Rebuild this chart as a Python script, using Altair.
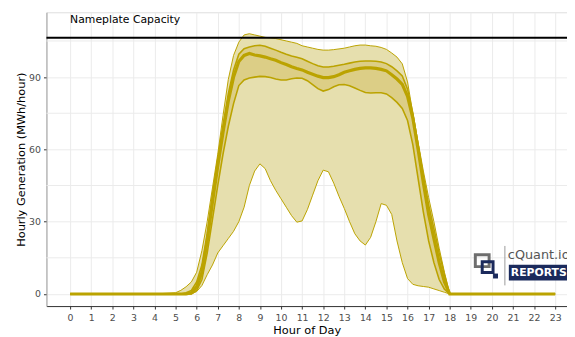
import altair as alt
import pandas as pd

# ---- data ----
grid_hours = [5.0, 5.25, 5.5, 5.75, 6.0, 6.25, 6.5, 6.75, 7.0, 7.25, 7.5, 7.75, 8.0, 8.25, 8.5, 8.75,
              9.0, 9.25, 9.5, 9.75, 10.0, 10.25, 10.5, 10.75, 11.0, 11.25, 11.5, 11.75, 12.0, 12.25,
              12.5, 12.75, 13.0, 13.25, 13.5, 13.75, 14.0, 14.25, 14.5, 14.75, 15.0, 15.25, 15.5,
              15.75, 16.0, 16.25, 16.5, 16.75, 17.0, 17.25, 17.5, 17.75, 18.0]
night_before = [0, 1, 2, 3, 4]
night_after = [19, 20, 21, 22, 23]

gen_max = [0.5, 1.5, 3, 5, 9, 18, 30, 44, 58, 74, 89, 99, 104.5, 107.5, 108, 107.5,
           107, 106.5, 106.3, 106, 105.5, 105, 104.5, 104, 103, 102.5, 102, 101.5, 101.2, 101.2,
           101.4, 101.7, 102, 102.5, 103, 103.3, 103.3, 103, 102.8, 102.3, 101.5, 100, 98.3,
           95.5, 88, 75, 63, 51, 40, 30, 19, 9, 0]
gen_q_hi = [0, 0, 0.5, 1.5, 5, 12, 25, 41, 56, 70, 83, 93, 99.5, 101.8, 102.5, 103,
            103.2, 102.8, 102, 101.2, 100.3, 99.5, 98.8, 98.2, 97.6, 96.6, 95.6, 94.7, 94.2, 94.2,
            94.5, 94.9, 95.3, 95.8, 96.3, 96.6, 96.7, 96.7, 96.6, 96.3, 95.6, 94.3, 92.6,
            90.5, 85, 75, 62, 49, 37, 27, 17, 8, 0]
gen_median = [0, 0, 0, 0.5, 3, 9, 22, 38, 53, 67, 80, 90, 96.5, 99, 99.8, 99.2,
              98.8, 98.3, 97.6, 97, 96, 95.2, 94.3, 93.6, 93, 92, 91.2, 90.4, 89.8, 89.8,
              90.2, 91, 92, 92.6, 93.2, 93.6, 93.8, 93.8, 93.6, 93.2, 92.6, 91, 89.2,
              87, 82, 73, 60, 46, 33, 23, 13, 5, 0]
gen_q_lo = [0, 0, 0, 0, 1.5, 6, 17, 31, 45, 58, 69.5, 79, 86.5, 88.8, 89.6, 90,
            90.3, 90.2, 89.8, 89.2, 88.8, 88.8, 89.3, 89.6, 89.5, 88.5, 86.9, 85.2, 84.2, 84.8,
            86, 86.8, 86.9, 86.4, 85.5, 84.5, 83.6, 83.4, 83.5, 83.5, 83, 81.5, 79.5,
            77, 72, 62, 48, 34, 22, 13, 6, 2, 0]
gen_min = [0, 0, 0, 0, 1, 3.5, 8, 12, 17, 20, 23, 26, 30, 36, 45, 51,
           54, 52, 47, 43, 39.5, 36, 32.5, 29.8, 30.3, 35, 41, 47, 51.4, 50.7,
           46, 40.5, 35.5, 30, 25, 22, 20.3, 23.5, 30, 37.5, 36.8, 33, 22,
           13, 6.4, 4, 3.4, 3.1, 2.8, 2.1, 1.4, 0.7, 0]

nameplate_capacity = [106.3]
x_ticks = list(range(0, 24))
y_ticks = [0, 30, 60, 90]
y_minor = [15, 45, 75, 105]

# ---- table ----
hours = night_before + grid_hours + night_after
zeros_b = [0] * len(night_before)
zeros_a = [0] * len(night_after)
df = pd.DataFrame({
    "hour": hours,
    "gmax": zeros_b + gen_max + zeros_a,
    "qhi": zeros_b + gen_q_hi + zeros_a,
    "med": zeros_b + gen_median + zeros_a,
    "qlo": zeros_b + gen_q_lo + zeros_a,
    "gmin": zeros_b + gen_min + zeros_a,
})

FONT = "DejaVu Sans"
LINE = "#BBA300"
X_DOM = [-1.122, 23.561]
Y_DOM = [-5.03, 116.9]
W, H = 528, 298

xs = alt.Scale(domain=X_DOM, nice=False, zero=False)
ys = alt.Scale(domain=Y_DOM, nice=False, zero=False)

x_axis = alt.Axis(values=x_ticks, title="Hour of Day", labelOverlap=False)
y_axis = alt.Axis(values=y_ticks, title="Hourly Generation (MWh/hour)")

base = alt.Chart(df)

minor = alt.Chart(pd.DataFrame({"v": y_minor})).mark_rule(color="#EBEBEB", strokeWidth=1).encode(
    y=alt.Y("v:Q", scale=ys, axis=y_axis))

outer = base.mark_area(color="#E6DFAE", opacity=1).encode(
    x=alt.X("hour:Q", scale=xs, axis=x_axis),
    y=alt.Y("gmin:Q", scale=ys, axis=y_axis),
    y2="gmax:Q")
inner = base.mark_area(color="#DCCE86", opacity=1).encode(
    x=alt.X("hour:Q", scale=xs, axis=x_axis), y=alt.Y("qlo:Q", scale=ys, axis=y_axis), y2="qhi:Q")

def line(field, w):
    return base.mark_line(color=LINE, strokeWidth=w, clip=True).encode(
        x=alt.X("hour:Q", scale=xs, axis=x_axis), y=alt.Y(f"{field}:Q", scale=ys, axis=y_axis))

lines = [line("gmax", 1.0), line("gmin", 1.0), line("qhi", 1.6), line("qlo", 1.6), line("med", 3.2)]

cap = alt.Chart(pd.DataFrame({"v": nameplate_capacity})).mark_rule(color="#000000", strokeWidth=2).encode(
    y=alt.Y("v:Q", scale=ys, axis=y_axis))
cap_text = alt.Chart(pd.DataFrame({"h": [0], "v": [113.6], "t": ["Nameplate Capacity"]})).mark_text(
    align="left", baseline="middle", font=FONT, fontSize=11, color="#000000").encode(
    x=alt.X("h:Q", scale=xs, axis=x_axis), y=alt.Y("v:Q", scale=ys, axis=y_axis), text="t:N")

# logo (decoration, pixel positions relative to plot area)
ox, oy = 47, 10
logo_box = alt.Chart(pd.DataFrame({"a": [0]})).mark_rect(color="#1B2A5C").encode(
    x=alt.value(516 - ox), x2=alt.value(W), y=alt.value(266 - oy), y2=alt.value(282 - oy))
logo_rep = alt.Chart(pd.DataFrame({"t": ["REPORTS"]})).mark_text(
    align="left", baseline="middle", font=FONT, fontSize=11, fontWeight="bold", color="#FFFFFF").encode(
    x=alt.value(518 - ox), y=alt.value(274.5 - oy), text="t:N")
logo_name = alt.Chart(pd.DataFrame({"t": ["cQuant.io"]})).mark_text(
    align="left", baseline="middle", font=FONT, fontSize=13, color="#555555").encode(
    x=alt.value(515 - ox), y=alt.value(256 - oy), text="t:N")
logo_div = alt.Chart(pd.DataFrame({"a": [0]})).mark_rule(color="#999999", strokeWidth=1).encode(
    x=alt.value(512 - ox), y=alt.value(247 - oy), y2=alt.value(287 - oy))
logo_sq1 = alt.Chart(pd.DataFrame({"a": [0]})).mark_rect(fill=None, stroke="#6E6E6E", strokeWidth=3).encode(
    x=alt.value(482 - ox), x2=alt.value(496 - ox), y=alt.value(256 - oy), y2=alt.value(268 - oy))
logo_sq2 = alt.Chart(pd.DataFrame({"a": [0]})).mark_rect(fill=None, stroke="#1B2A5C", strokeWidth=3).encode(
    x=alt.value(489 - ox), x2=alt.value(500 - ox), y=alt.value(263 - oy), y2=alt.value(274 - oy))
logo_dot = alt.Chart(pd.DataFrame({"a": [0]})).mark_rect(color="#1B2A5C").encode(
    x=alt.value(500 - ox), x2=alt.value(505 - ox), y=alt.value(275 - oy), y2=alt.value(280 - oy))

chart = alt.layer(minor, outer, inner, *lines, cap, cap_text,
                  logo_sq1, logo_sq2, logo_dot, logo_div, logo_box, logo_rep, logo_name).properties(
    width=W, height=H,
    autosize=alt.AutoSizeParams(type="none"),
    padding={"left": 39, "top": 2, "right": 0, "bottom": 28},
).configure_view(stroke="#D0D0D0", strokeWidth=1).configure(background="#FFFFFF").configure_axis(
    grid=True, gridColor="#EBEBEB", labelColor="#4D4D4D", labelFontSize=9.5, labelFont=FONT,
    tickSize=3, tickColor="#333333", labelPadding=4, titleFont=FONT, titleFontSize=11.5,
    titleFontWeight="normal", titleColor="#000000", labelOverlap=False, labelFlush=False,
).configure_axisX(domainColor="#333333", titlePadding=2, labelOverlap=False).configure_axisY(
    domainColor="#A0A0A0", labelPadding=3, titlePadding=2)

chart.save("out.html", embed_options={"renderer": "svg", "actions": False})
